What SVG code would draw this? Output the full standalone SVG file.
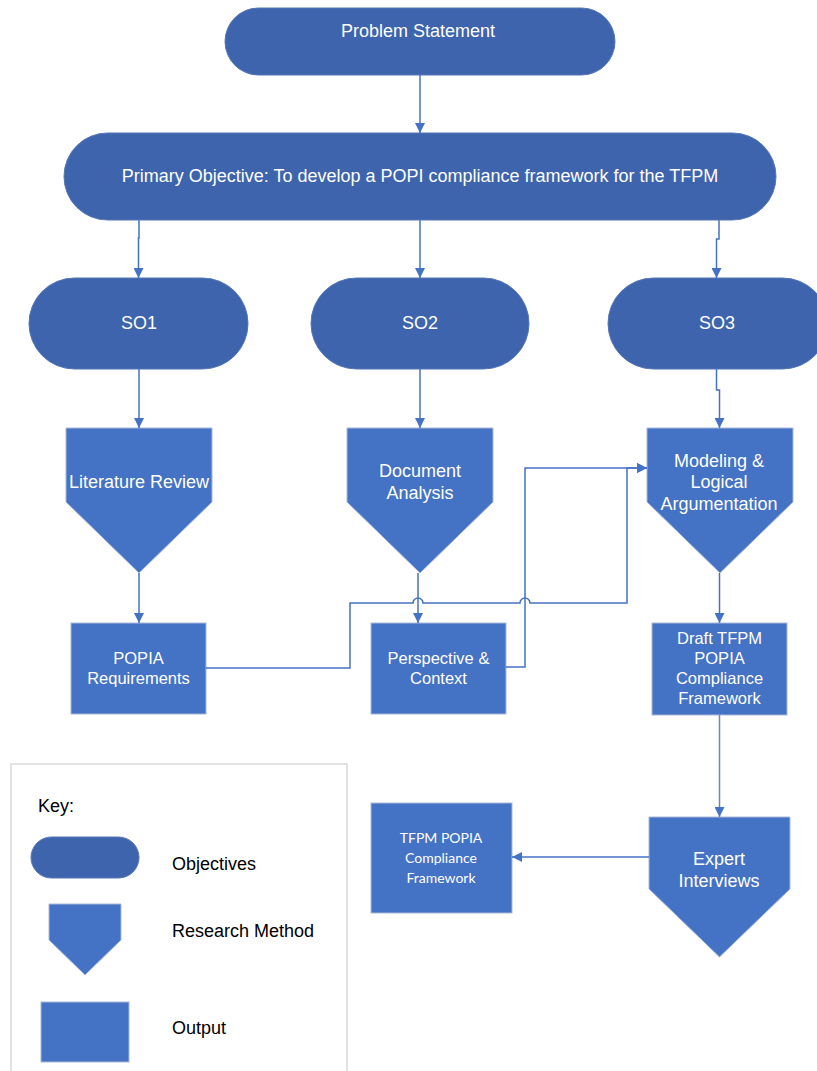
<svg xmlns="http://www.w3.org/2000/svg" width="817" height="1071" viewBox="0 0 817 1071">
  <style>
    .obj { fill: #3D64AD; stroke: #5676B5; stroke-width: 1; }
    .blk { fill: #4472C4; stroke: #A9B8D7; stroke-width: 1; }
    .lbl { font-family: "Liberation Sans", Arial, sans-serif; font-size: 18px; fill: #FFFFFF; text-anchor: middle; }
    .lbl17 { font-family: "Liberation Sans", Arial, sans-serif; font-size: 16.5px; fill: #FFFFFF; text-anchor: middle; }
    .cal { font-family: Lato, "Open Sans", sans-serif; font-size: 14px; fill: #FFFFFF; text-anchor: middle; }
    .key { font-family: "Liberation Sans", Arial, sans-serif; font-size: 18px; fill: #000000; }
    .conn { fill: none; stroke: #4472C4; stroke-width: 1.5; }
  </style>
  <defs>
    <marker id="arr" markerWidth="10" markerHeight="10" refX="10" refY="5" orient="auto" markerUnits="userSpaceOnUse">
      <path d="M0,0 L10,5 L0,10 z" fill="#4472C4"/>
    </marker>
  </defs>
  <rect width="817" height="1071" fill="#FFFFFF"/>

  <!-- objectives -->
  <g id="problem-statement">
    <rect class="obj" x="225" y="8" width="390" height="67" rx="33.5"/>
    <text class="lbl" x="418" y="37">Problem Statement</text>
  </g>
  <g id="primary-objective">
    <rect class="obj" x="64" y="133" width="712" height="87" rx="43.5"/>
    <text class="lbl" x="420" y="182">Primary Objective: To develop a POPI compliance framework for the TFPM</text>
  </g>
  <g id="so1">
    <rect class="obj" x="29" y="278" width="219" height="91" rx="45.5"/>
    <text class="lbl" x="139" y="329">SO1</text>
  </g>
  <g id="so2">
    <rect class="obj" x="311" y="278" width="218" height="91" rx="45.5"/>
    <text class="lbl" x="420" y="329">SO2</text>
  </g>
  <g id="so3">
    <rect class="obj" x="608" y="278" width="220" height="91" rx="45.5"/>
    <text class="lbl" x="717" y="329">SO3</text>
  </g>

  <!-- research methods -->
  <g id="literature-review">
    <path class="blk" d="M66,428 H212 V502 L139,573 L66,502 Z"/>
    <text class="lbl" x="139" y="488">Literature Review</text>
  </g>
  <g id="document-analysis">
    <path class="blk" d="M347,428 H493 V502 L420,573 L347,502 Z"/>
    <text class="lbl" x="420" y="477">Document</text>
    <text class="lbl" x="420" y="499">Analysis</text>
  </g>
  <g id="modeling">
    <path class="blk" d="M647,428 H793 V502 L720,573 L647,502 Z"/>
    <text class="lbl" x="719" y="467">Modeling &amp;</text>
    <text class="lbl" x="719" y="488">Logical</text>
    <text class="lbl" x="719" y="510">Argumentation</text>
  </g>
  <g id="expert-interviews">
    <path class="blk" d="M649,817 H790 V889 L719.5,957 L649,889 Z"/>
    <text class="lbl" x="719" y="865">Expert</text>
    <text class="lbl" x="719" y="887">Interviews</text>
  </g>

  <!-- outputs -->
  <g id="popia-requirements">
    <rect class="blk" x="71" y="623" width="135" height="91"/>
    <text class="lbl17" x="138.5" y="664">POPIA</text>
    <text class="lbl17" x="138.5" y="684">Requirements</text>
  </g>
  <g id="perspective-context">
    <rect class="blk" x="371" y="623" width="135" height="91"/>
    <text class="lbl17" x="438.5" y="664">Perspective &amp;</text>
    <text class="lbl17" x="438.5" y="684">Context</text>
  </g>
  <g id="draft-framework">
    <rect class="blk" x="652" y="623" width="135" height="92"/>
    <text class="lbl17" x="719.5" y="644">Draft TFPM</text>
    <text class="lbl17" x="719.5" y="664">POPIA</text>
    <text class="lbl17" x="719.5" y="684">Compliance</text>
    <text class="lbl17" x="719.5" y="704">Framework</text>
  </g>
  <g id="final-framework">
    <rect class="blk" x="371" y="803" width="141" height="110"/>
    <text class="cal" x="441" y="843">TFPM POPIA</text>
    <text class="cal" x="441" y="863">Compliance</text>
    <text class="cal" x="441" y="883">Framework</text>
  </g>

  <!-- connectors -->
  <g id="connectors">
    <path class="conn" marker-end="url(#arr)" d="M420,75 V133"/>
    <path class="conn" marker-end="url(#arr)" d="M139,220 V238 H138.5 V278"/>
    <path class="conn" marker-end="url(#arr)" d="M420,220 V278"/>
    <path class="conn" marker-end="url(#arr)" d="M719,220 V239 H716.5 V278"/>
    <path class="conn" marker-end="url(#arr)" d="M139,369 V428"/>
    <path class="conn" marker-end="url(#arr)" d="M420,369 V428"/>
    <path class="conn" marker-end="url(#arr)" d="M716.5,369 V390 H719.5 V428"/>
    <path class="conn" marker-end="url(#arr)" d="M139,573 V623"/>
    <path class="conn" marker-end="url(#arr)" d="M418,573 V623"/>
    <path class="conn" marker-end="url(#arr)" d="M719.5,573 V623"/>
    <path class="conn" marker-end="url(#arr)" d="M206,668 H350 V603 H413 A5,5 0 0 1 423,603 H520 A5,5 0 0 1 530,603 H627 V468 H647"/>
    <path class="conn" marker-end="url(#arr)" d="M506,667 H525 V468 H647"/>
    <path class="conn" marker-end="url(#arr)" style="stroke:#6F84B0" d="M719.5,715 V817"/>
    <path class="conn" marker-end="url(#arr)" d="M649,857 H512"/>
  </g>

  <!-- key -->
  <g id="key">
    <rect x="11" y="764" width="336" height="320" fill="#FFFFFF" stroke="#D9D9D9" stroke-width="1.5"/>
    <text class="key" x="38" y="812">Key:</text>
    <rect class="obj" x="31" y="837" width="108" height="41" rx="20.5"/>
    <text class="key" x="172" y="870">Objectives</text>
    <path class="blk" d="M49,904 H121 V940 L85,975 L49,940 Z"/>
    <text class="key" x="172" y="937">Research Method</text>
    <rect class="blk" x="41" y="1002" width="88" height="60"/>
    <text class="key" x="172" y="1034">Output</text>
  </g>
</svg>
